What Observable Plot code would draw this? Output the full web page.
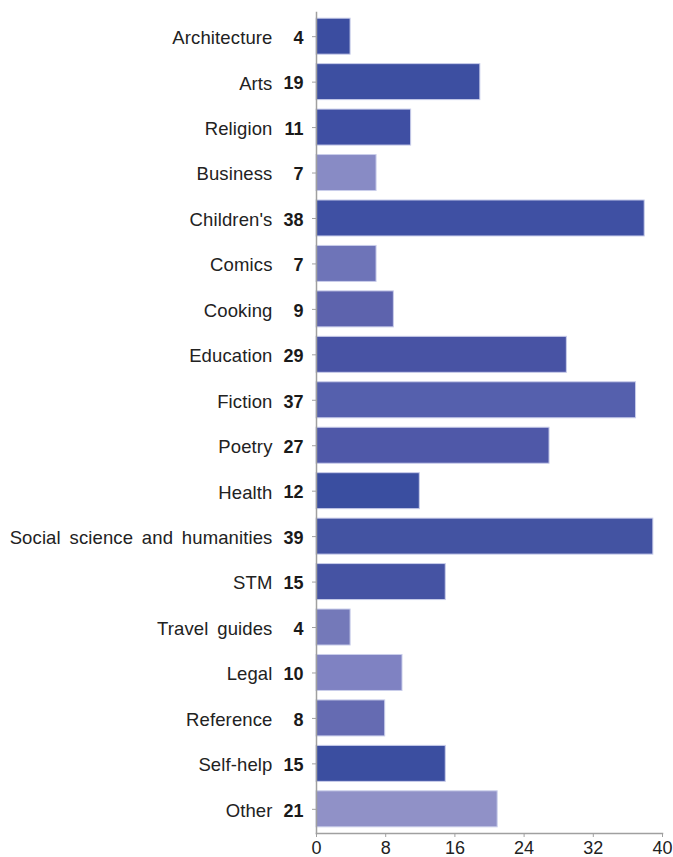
<!DOCTYPE html>
<html>
<head>
<meta charset="utf-8">
<script src="https://cdn.jsdelivr.net/npm/d3@7"></script>
<script src="https://cdn.jsdelivr.net/npm/@observablehq/plot@0.6"></script>
<style>
  html, body { margin: 0; padding: 0; background: #fff; }
  svg { display: block; }
  .cat-label text { letter-spacing: 0.12px; word-spacing: 3.5px; }
</style>
</head>
<body>
<div id="chart"></div>
<script>
const categories = ["Architecture", "Arts", "Religion", "Business", "Children's", "Comics", "Cooking", "Education", "Fiction", "Poetry", "Health", "Social science and humanities", "STM", "Travel guides", "Legal", "Reference", "Self-help", "Other"];
const values = [4, 19, 11, 7, 38, 7, 9, 29, 37, 27, 12, 39, 15, 4, 10, 8, 15, 21];
const colors = ["#3b4da0", "#3d4fa1", "#3f4fa3", "#888bc5", "#3f50a3", "#6e74b8", "#5d63ad", "#4853a4", "#5560ad", "#4f58a8", "#3a4ea0", "#4353a2", "#4553a3", "#7479b9", "#7f82c2", "#656bb2", "#3b4ea0", "#9091c7"];
const xTicks = [0, 8, 16, 24, 32, 40];

const data = categories.map((c, i) => ({category: c, value: values[i], color: colors[i]}));

const chart = Plot.plot({
  width: 673,
  height: 857,
  marginLeft: 316,
  marginRight: 11,
  marginTop: 12,
  marginBottom: 24,
  style: {fontFamily: "'Liberation Sans', Arial, sans-serif", fontSize: "18px", color: "#222", background: "#fff"},
  x: {domain: [0, 40], ticks: xTicks, label: null},
  y: {domain: categories, round: false, paddingInner: 0.208, paddingOuter: 0.136, label: null},
  marks: [
    Plot.barX(data, {x: "value", y: "category", fill: "color", stroke: "#c9cdea", strokeWidth: 1, insetRight: 0.5}),
    Plot.frame({anchor: "left", stroke: "#a0a0a0", strokeWidth: 1.5}),
    Plot.frame({anchor: "bottom", stroke: "#a0a0a0", strokeWidth: 1.5}),
    Plot.axisY({tickSize: 4, tickFormat: () => "", stroke: "#a0a0a0", label: null}),
    Plot.axisX({ticks: xTicks, tickSize: 4, tickPadding: 4, stroke: "#a0a0a0", fill: "#222", fontSize: 18, label: null}),
    Plot.text(data, {x: 0, y: "category", text: "category", textAnchor: "end", dx: -44, dy: 1.5, fill: "#222", fontSize: 18.5, className: "cat-label"}),
    Plot.text(data, {x: 0, y: "category", text: d => String(d.value), textAnchor: "end", dx: -13, dy: 1.5, fill: "#1a1a1a", fontSize: 18, fontWeight: "bold"})
  ]
});
document.getElementById("chart").appendChild(chart);
</script>
</body>
</html>
